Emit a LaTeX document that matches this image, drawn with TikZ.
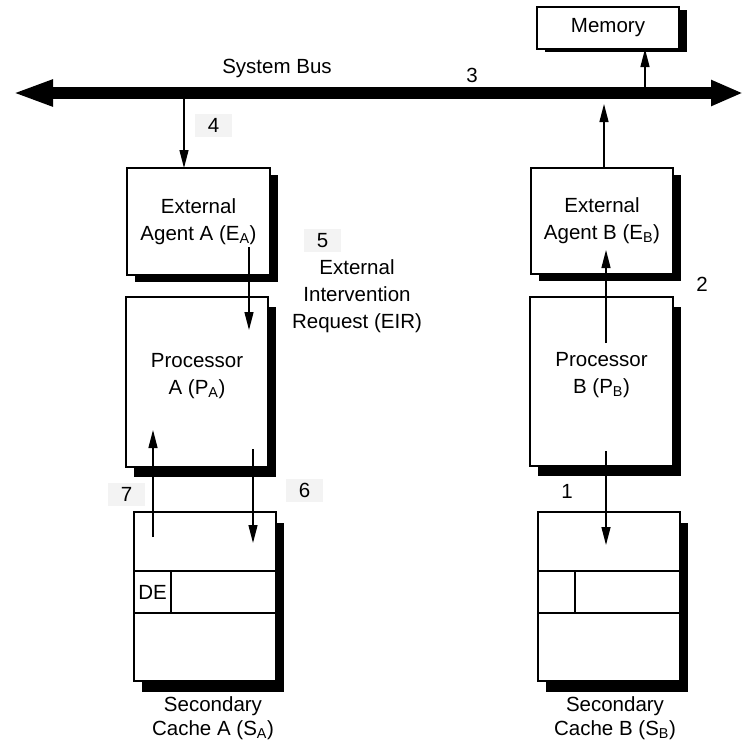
\documentclass[tikz,border=0pt]{standalone}
\usepackage{fontspec}
\setmainfont{Liberation Sans}
\usetikzlibrary{arrows.meta, positioning, calc, shadows}
\definecolor{tagGray}{HTML}{F3F3F3}
\tikzset{
  unit/.style={rectangle, draw=black, fill=white, line width=1.3pt, outer sep=0pt,
               align=center, inner sep=2pt,
               drop shadow={fill=black, opacity=1, shadow xshift=8pt, shadow yshift=#1}},
  unit/.default=-8pt,
  flow/.style={-{Triangle[length=18pt, width=9pt]}, line width=1.3pt},
  bus/.style={{Triangle[length=41pt, width=24pt]}-{Triangle[length=32pt, width=24pt]},
              line width=12pt},
  tag/.style={fill=tagGray, minimum width=37pt, minimum height=23pt, inner sep=0pt},
  row/.style={line width=1.3pt},
}

\begin{document}
\begin{tikzpicture}[x=1pt, y=-1pt, font=\fontsize{20.5}{27}\selectfont]
  \useasboundingbox (0,0) rectangle (744,742);
  % System bus
  \coordinate (busL) at (12,93);
  \coordinate (busR) at (743,93);
  \draw[bus] (busL) -- (busR);
  \node (busLbl) at (277,68) {System Bus};
  \node[fill=white, minimum width=38pt, minimum height=23pt, inner sep=0pt] (n3) at (472,75.5) {3};

  % Units
  \node[unit=-3pt, minimum width=142pt, minimum height=42pt] (mem) at (608,28) {Memory};
  \node[unit=-7pt, minimum width=143pt, minimum height=107pt] (eA) at (198.5,221.5)
    {External\\Agent A (E\textsubscript{A})};
  \node[unit=-7pt, minimum width=142pt, minimum height=106pt] (eB) at (602,221)
    {External\\Agent B (E\textsubscript{B})};
  \node[unit=-10pt, minimum width=142pt, minimum height=170pt] (pA) at (197,382)
    {Processor\\A (P\textsubscript{A})\\[-10pt]};
  \node[unit=-10pt, minimum width=143pt, minimum height=169pt] (pB) at (601.5,381.5)
    {Processor\\B (P\textsubscript{B})\\[-10pt]};
  \node[unit=-11pt, minimum width=142pt, minimum height=169pt] (sA) at (205,596.5) {};
  \node[unit=-11pt, minimum width=142pt, minimum height=169pt] (sB) at (609,596.5) {};

  % Cache lines
  \foreach \cache in {sA,sB} {
    \draw[row] ($(\cache.north west)+(0,59)$) -- ($(\cache.north east)+(0,59)$);
    \draw[row] ($(\cache.north west)+(0,101)$) -- ($(\cache.north east)+(0,101)$);
    \draw[row] ($(\cache.north west)+(37,59)$) -- ($(\cache.north west)+(37,101)$);
  }
  \node (de) at ($(sA.north west)+(18.5,80)$) {DE};

  \node[align=center, font=\fontsize{20.5}{24}\selectfont] (sAlbl) at (213,718)
    {Secondary\\Cache A (S\textsubscript{A})};
  \node[align=center, font=\fontsize{20.5}{24}\selectfont] (sBlbl) at (615,718)
    {Secondary\\Cache B (S\textsubscript{B})};
  \node[align=center] (eir) at (357,296) {External\\Intervention\\Request (EIR)};

  % Step numbers
  \node[tag] (n4) at (213.5,125.5) {4};
  \node[tag] (n5) at (322.5,240.5) {5};
  \node[tag] (n6) at (304.5,490.5) {6};
  \node[tag] (n7) at (126.5,494.5) {7};
  \node (n1) at (567,491) {1};
  \node (n2) at (702,284) {2};

  % Transactions
  \coordinate (tap4) at (184,99);
  \draw[flow] (tap4) -- (tap4 |- eA.north);
  \coordinate (tapM) at (645,87);
  \draw[flow] (tapM) -- (tapM |- mem.south);
  \coordinate (tapB) at (604,104);
  \draw[flow] (eB.north -| tapB) -- (tapB);
  \coordinate (eir0) at (249,247);
  \coordinate (eir1) at (249,330);
  \draw[flow] (eir0) -- (eir1);
  \coordinate (req0) at (606,343);
  \coordinate (req1) at (606,250);
  \draw[flow] (req0) -- (req1);
  \coordinate (miss0) at (606,451);
  \coordinate (miss1) at (606,545);
  \draw[flow] (miss0) -- (miss1);
  \coordinate (wr0) at (253,449);
  \coordinate (wr1) at (253,543);
  \draw[flow] (wr0) -- (wr1);
  \coordinate (rd0) at (153,537);
  \coordinate (rd1) at (153,430);
  \draw[flow] (rd0) -- (rd1);
\end{tikzpicture}
\end{document}
